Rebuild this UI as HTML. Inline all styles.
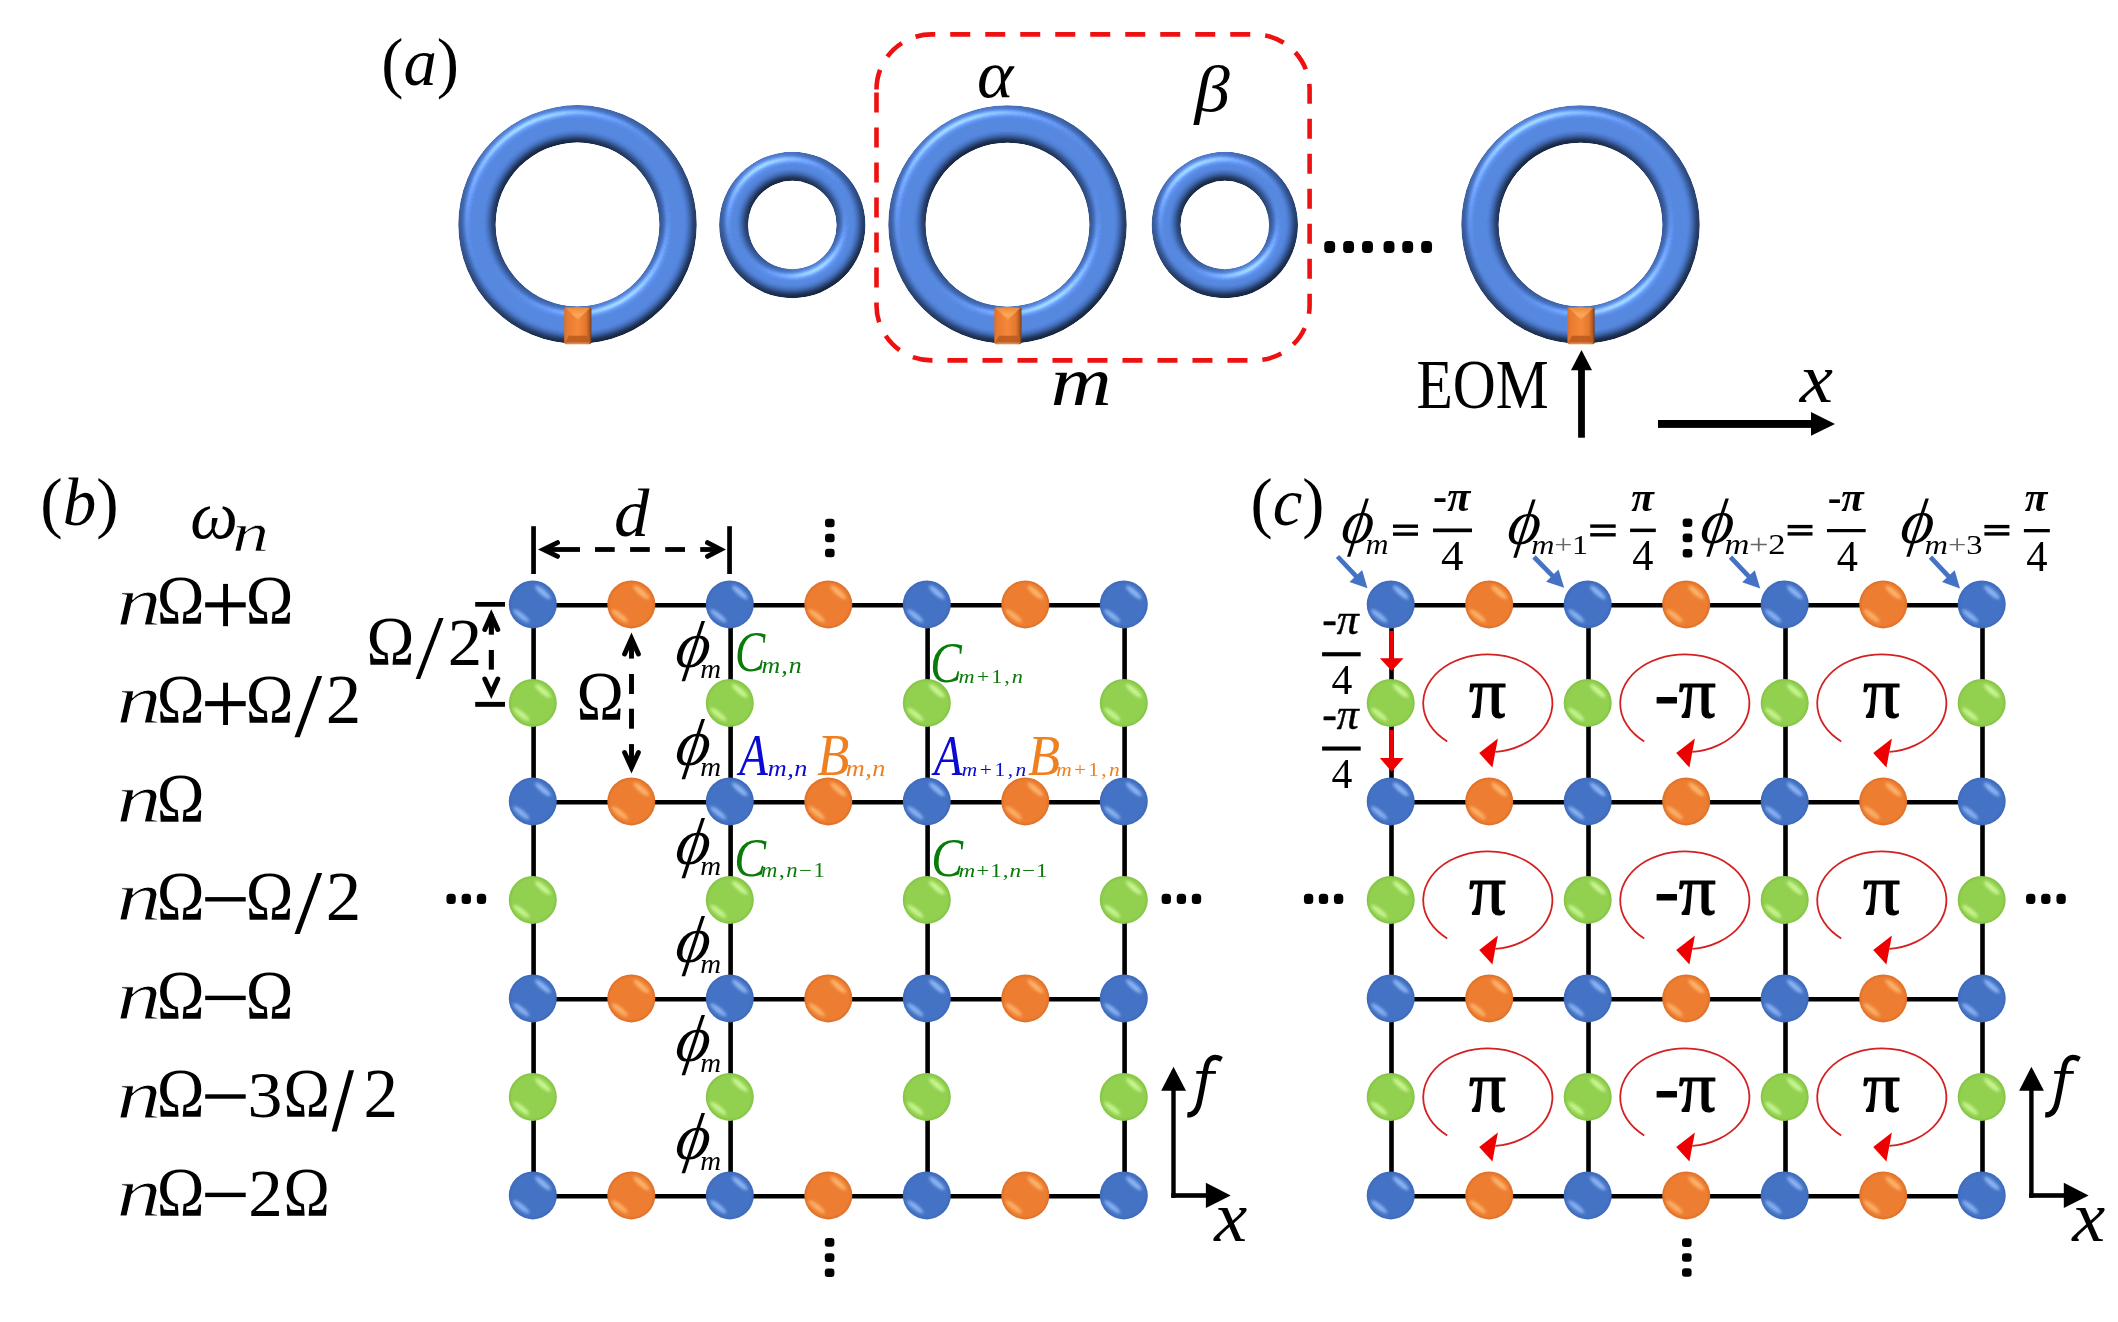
<!DOCTYPE html>
<html><head><meta charset="utf-8"><title>figure</title>
<style>html,body{margin:0;padding:0;background:#fff;overflow:hidden}svg{display:block;font-family:"Liberation Serif",serif;will-change:transform}</style>
</head><body>
<svg width="2118" height="1322" viewBox="0 0 2118 1322">
<rect width="2118" height="1322" fill="#fff"/>

<defs>
 <filter id="bev" x="-8%" y="-8%" width="116%" height="116%" color-interpolation-filters="sRGB">
  <feGaussianBlur in="SourceAlpha" stdDeviation="5" result="b"/>
  <feDiffuseLighting in="b" surfaceScale="8" diffuseConstant="1" lighting-color="#fff" result="d">
   <feDistantLight azimuth="245" elevation="70"/>
  </feDiffuseLighting>
  <feComposite in="SourceGraphic" in2="d" operator="arithmetic" k1="1.0642" k2="0" k3="0" k4="0" result="lit"/>
  <feSpecularLighting in="b" surfaceScale="8" specularConstant="0.8" specularExponent="16" lighting-color="#cfe0ff" result="s">
   <feDistantLight azimuth="240" elevation="35"/>
  </feSpecularLighting>
  <feComposite in="s" in2="SourceAlpha" operator="in" result="s2"/>
  <feComposite in="lit" in2="s2" operator="arithmetic" k1="0" k2="1" k3="0.5" k4="0" result="o"/>
  <feComposite in="o" in2="SourceAlpha" operator="in"/>
 </filter>
 <filter id="bevs" x="-8%" y="-8%" width="116%" height="116%" color-interpolation-filters="sRGB">
  <feGaussianBlur in="SourceAlpha" stdDeviation="1.5" result="b"/>
  <feDiffuseLighting in="b" surfaceScale="3" diffuseConstant="1" lighting-color="#fff" result="d">
   <feDistantLight azimuth="270" elevation="60"/>
  </feDiffuseLighting>
  <feComposite in="SourceGraphic" in2="d" operator="arithmetic" k1="1.12" k2="0" k3="0" k4="0" result="lit"/>
  <feComposite in="lit" in2="SourceAlpha" operator="in"/>
 </filter>

 <filter id="sblur" x="-50%" y="-50%" width="200%" height="200%"><feGaussianBlur stdDeviation="1.6"/></filter>
 <radialGradient id="gB" cx="0.5" cy="0.5" r="0.5">
  <stop offset="0" stop-color="#4472c4"/><stop offset="0.86" stop-color="#4472c4"/><stop offset="1" stop-color="#3e69b8"/>
 </radialGradient>

 <radialGradient id="gO" cx="0.5" cy="0.5" r="0.5">
  <stop offset="0" stop-color="#ed7d31"/><stop offset="0.86" stop-color="#ed7d31"/><stop offset="1" stop-color="#dc6f28"/>
 </radialGradient>

 <radialGradient id="gG" cx="0.5" cy="0.5" r="0.5">
  <stop offset="0" stop-color="#92d050"/><stop offset="0.86" stop-color="#92d050"/><stop offset="1" stop-color="#84c244"/>
 </radialGradient>

 <linearGradient id="eomg" x1="0" y1="0" x2="1" y2="0">
  <stop offset="0" stop-color="#d8702c"/><stop offset="0.12" stop-color="#e97a30"/><stop offset="0.5" stop-color="#f5883a"/>
  <stop offset="0.8" stop-color="#e2772f"/><stop offset="0.92" stop-color="#b35a22"/><stop offset="1" stop-color="#6e3a1c"/>
 </linearGradient>
 <linearGradient id="eomt" x1="0" y1="0" x2="0" y2="1">
  <stop offset="0" stop-color="#f08a3a"/><stop offset="0.6" stop-color="#fba858"/><stop offset="1" stop-color="#f79646"/>
 </linearGradient>
</defs>

<path d="M 458.2 224.4 a 119.3 119.3 0 1 0 238.6 0 a 119.3 119.3 0 1 0 -238.6 0 Z M 495.7 224.4 a 81.8 81.8 0 1 1 163.6 0 a 81.8 81.8 0 1 1 -163.6 0 Z" fill="#4b7bd1" fill-rule="evenodd" filter="url(#bev)"/>
<path d="M 719.1 225 a 73.2 73.2 0 1 0 146.4 0 a 73.2 73.2 0 1 0 -146.4 0 Z M 748.1 225 a 44.2 44.2 0 1 1 88.4 0 a 44.2 44.2 0 1 1 -88.4 0 Z" fill="#4b7bd1" fill-rule="evenodd" filter="url(#bev)"/>
<path d="M 888.2 224.6 a 119.3 119.3 0 1 0 238.6 0 a 119.3 119.3 0 1 0 -238.6 0 Z M 925.7 224.6 a 81.8 81.8 0 1 1 163.6 0 a 81.8 81.8 0 1 1 -163.6 0 Z" fill="#4b7bd1" fill-rule="evenodd" filter="url(#bev)"/>
<path d="M 1151.6 225 a 73.2 73.2 0 1 0 146.4 0 a 73.2 73.2 0 1 0 -146.4 0 Z M 1180.6 225 a 44.2 44.2 0 1 1 88.4 0 a 44.2 44.2 0 1 1 -88.4 0 Z" fill="#4b7bd1" fill-rule="evenodd" filter="url(#bev)"/>
<path d="M 1461.2 224.5 a 119.3 119.3 0 1 0 238.6 0 a 119.3 119.3 0 1 0 -238.6 0 Z M 1498.7 224.5 a 81.8 81.8 0 1 1 163.6 0 a 81.8 81.8 0 1 1 -163.6 0 Z" fill="#4b7bd1" fill-rule="evenodd" filter="url(#bev)"/>
<rect x="564.2" y="307.2" width="27.2" height="37" rx="2" fill="url(#eomg)"/><polygon points="565.7,308 589.9,308 577.8,319.7" fill="url(#eomt)"/><polygon points="565.2,342.7 568.7,335.7 586.9,335.7 590.4,342.7" fill="#b9591d" opacity="0.85"/><rect x="566.2" y="342.4" width="23.2" height="1.6" fill="#d98a5a" opacity="0.8"/>
<rect x="994.3" y="307.2" width="27.2" height="37" rx="2" fill="url(#eomg)"/><polygon points="995.8,308 1020,308 1007.9,319.7" fill="url(#eomt)"/><polygon points="995.3,342.7 998.8,335.7 1017,335.7 1020.5,342.7" fill="#b9591d" opacity="0.85"/><rect x="996.3" y="342.4" width="23.2" height="1.6" fill="#d98a5a" opacity="0.8"/>
<rect x="1567.4" y="307.2" width="27.2" height="37" rx="2" fill="url(#eomg)"/><polygon points="1568.9,308 1593.1,308 1581,319.7" fill="url(#eomt)"/><polygon points="1568.4,342.7 1571.9,335.7 1590.1,335.7 1593.6,342.7" fill="#b9591d" opacity="0.85"/><rect x="1569.4" y="342.4" width="23.2" height="1.6" fill="#d98a5a" opacity="0.8"/>
<path d="M 876.5 89.4 A 55 55 0 0 1 931.5 34.4 H 1254.6 A 55 55 0 0 1 1309.6 89.4 V 305.4 A 55 55 0 0 1 1254.6 360.4 H 931.5 A 55 55 0 0 1 876.5 305.4 Z" fill="none" stroke="#ee1111" stroke-width="4.6" stroke-dasharray="20 15"/>
<rect x="1324.25" y="241.1" width="10.9" height="11.8" rx="4" fill="#000"/>
<rect x="1343.15" y="241.1" width="10.9" height="11.8" rx="4" fill="#000"/>
<rect x="1362.05" y="241.1" width="10.9" height="11.8" rx="4" fill="#000"/>
<rect x="1383.55" y="241.1" width="10.9" height="11.8" rx="4" fill="#000"/>
<rect x="1402.25" y="241.1" width="10.9" height="11.8" rx="4" fill="#000"/>
<rect x="1421.15" y="241.1" width="10.9" height="11.8" rx="4" fill="#000"/>
<rect x="1578.1" y="368" width="6.8" height="69.7" fill="#000"/>
<polygon points="1581.5,349.9 1592,370.3 1571,370.3" fill="#000"/>
<rect x="1658" y="420" width="155" height="7.9" fill="#000"/>
<polygon points="1835,424 1811,412 1811,435.8" fill="#000"/>
<line x1="532.8" y1="605.2" x2="1123.8" y2="605.2" stroke="#000" stroke-width="4.6"/>
<line x1="532.8" y1="802.2" x2="1123.8" y2="802.2" stroke="#000" stroke-width="4.6"/>
<line x1="532.8" y1="999.2" x2="1123.8" y2="999.2" stroke="#000" stroke-width="4.6"/>
<line x1="532.8" y1="1196.2" x2="1123.8" y2="1196.2" stroke="#000" stroke-width="4.6"/>
<line x1="533.6" y1="604.4" x2="533.6" y2="1195.4" stroke="#000" stroke-width="4.6"/>
<line x1="730.6" y1="604.4" x2="730.6" y2="1195.4" stroke="#000" stroke-width="4.6"/>
<line x1="927.6" y1="604.4" x2="927.6" y2="1195.4" stroke="#000" stroke-width="4.6"/>
<line x1="1124.6" y1="604.4" x2="1124.6" y2="1195.4" stroke="#000" stroke-width="4.6"/>
<line x1="1390.7" y1="605.2" x2="1981.7" y2="605.2" stroke="#000" stroke-width="4.6"/>
<line x1="1390.7" y1="802.2" x2="1981.7" y2="802.2" stroke="#000" stroke-width="4.6"/>
<line x1="1390.7" y1="999.2" x2="1981.7" y2="999.2" stroke="#000" stroke-width="4.6"/>
<line x1="1390.7" y1="1196.2" x2="1981.7" y2="1196.2" stroke="#000" stroke-width="4.6"/>
<line x1="1391.5" y1="604.4" x2="1391.5" y2="1195.4" stroke="#000" stroke-width="4.6"/>
<line x1="1588.5" y1="604.4" x2="1588.5" y2="1195.4" stroke="#000" stroke-width="4.6"/>
<line x1="1785.5" y1="604.4" x2="1785.5" y2="1195.4" stroke="#000" stroke-width="4.6"/>
<line x1="1982.5" y1="604.4" x2="1982.5" y2="1195.4" stroke="#000" stroke-width="4.6"/>
<rect x="1389.4" y="631" width="4.2" height="28.3" fill="#ee0000"/>
<polygon points="1379.9,658.3 1403.5,658.3 1391.7,671.1" fill="#ee0000"/>
<rect x="1389.4" y="730" width="4.2" height="29.1" fill="#ee0000"/>
<polygon points="1379.9,758.1 1403.5,758.1 1391.7,771.8" fill="#ee0000"/>
<g transform="translate(532.8,604.4)"><circle r="24" fill="url(#gB)"/><g filter="url(#sblur)" fill="#9cc4ff"><ellipse rx="10" ry="2.8" opacity="0.8" transform="translate(10,-12) rotate(40)"/><ellipse rx="10" ry="2.8" opacity="0.75" transform="translate(-11.5,11.5) rotate(38)"/></g></g>
<g transform="translate(631.3,604.4)"><circle r="24" fill="url(#gO)"/><g filter="url(#sblur)" fill="#ffc078"><ellipse rx="10" ry="2.8" opacity="0.8" transform="translate(10,-12) rotate(40)"/><ellipse rx="10" ry="2.8" opacity="0.75" transform="translate(-11.5,11.5) rotate(38)"/></g></g>
<g transform="translate(729.8,604.4)"><circle r="24" fill="url(#gB)"/><g filter="url(#sblur)" fill="#9cc4ff"><ellipse rx="10" ry="2.8" opacity="0.8" transform="translate(10,-12) rotate(40)"/><ellipse rx="10" ry="2.8" opacity="0.75" transform="translate(-11.5,11.5) rotate(38)"/></g></g>
<g transform="translate(828.3,604.4)"><circle r="24" fill="url(#gO)"/><g filter="url(#sblur)" fill="#ffc078"><ellipse rx="10" ry="2.8" opacity="0.8" transform="translate(10,-12) rotate(40)"/><ellipse rx="10" ry="2.8" opacity="0.75" transform="translate(-11.5,11.5) rotate(38)"/></g></g>
<g transform="translate(926.8,604.4)"><circle r="24" fill="url(#gB)"/><g filter="url(#sblur)" fill="#9cc4ff"><ellipse rx="10" ry="2.8" opacity="0.8" transform="translate(10,-12) rotate(40)"/><ellipse rx="10" ry="2.8" opacity="0.75" transform="translate(-11.5,11.5) rotate(38)"/></g></g>
<g transform="translate(1025.3,604.4)"><circle r="24" fill="url(#gO)"/><g filter="url(#sblur)" fill="#ffc078"><ellipse rx="10" ry="2.8" opacity="0.8" transform="translate(10,-12) rotate(40)"/><ellipse rx="10" ry="2.8" opacity="0.75" transform="translate(-11.5,11.5) rotate(38)"/></g></g>
<g transform="translate(1123.8,604.4)"><circle r="24" fill="url(#gB)"/><g filter="url(#sblur)" fill="#9cc4ff"><ellipse rx="10" ry="2.8" opacity="0.8" transform="translate(10,-12) rotate(40)"/><ellipse rx="10" ry="2.8" opacity="0.75" transform="translate(-11.5,11.5) rotate(38)"/></g></g>
<g transform="translate(532.8,702.9)"><circle r="24" fill="url(#gG)"/><g filter="url(#sblur)" fill="#d6ffa0"><ellipse rx="10" ry="2.8" opacity="0.8" transform="translate(10,-12) rotate(40)"/><ellipse rx="10" ry="2.8" opacity="0.75" transform="translate(-11.5,11.5) rotate(38)"/></g></g>
<g transform="translate(729.8,702.9)"><circle r="24" fill="url(#gG)"/><g filter="url(#sblur)" fill="#d6ffa0"><ellipse rx="10" ry="2.8" opacity="0.8" transform="translate(10,-12) rotate(40)"/><ellipse rx="10" ry="2.8" opacity="0.75" transform="translate(-11.5,11.5) rotate(38)"/></g></g>
<g transform="translate(926.8,702.9)"><circle r="24" fill="url(#gG)"/><g filter="url(#sblur)" fill="#d6ffa0"><ellipse rx="10" ry="2.8" opacity="0.8" transform="translate(10,-12) rotate(40)"/><ellipse rx="10" ry="2.8" opacity="0.75" transform="translate(-11.5,11.5) rotate(38)"/></g></g>
<g transform="translate(1123.8,702.9)"><circle r="24" fill="url(#gG)"/><g filter="url(#sblur)" fill="#d6ffa0"><ellipse rx="10" ry="2.8" opacity="0.8" transform="translate(10,-12) rotate(40)"/><ellipse rx="10" ry="2.8" opacity="0.75" transform="translate(-11.5,11.5) rotate(38)"/></g></g>
<g transform="translate(532.8,801.4)"><circle r="24" fill="url(#gB)"/><g filter="url(#sblur)" fill="#9cc4ff"><ellipse rx="10" ry="2.8" opacity="0.8" transform="translate(10,-12) rotate(40)"/><ellipse rx="10" ry="2.8" opacity="0.75" transform="translate(-11.5,11.5) rotate(38)"/></g></g>
<g transform="translate(631.3,801.4)"><circle r="24" fill="url(#gO)"/><g filter="url(#sblur)" fill="#ffc078"><ellipse rx="10" ry="2.8" opacity="0.8" transform="translate(10,-12) rotate(40)"/><ellipse rx="10" ry="2.8" opacity="0.75" transform="translate(-11.5,11.5) rotate(38)"/></g></g>
<g transform="translate(729.8,801.4)"><circle r="24" fill="url(#gB)"/><g filter="url(#sblur)" fill="#9cc4ff"><ellipse rx="10" ry="2.8" opacity="0.8" transform="translate(10,-12) rotate(40)"/><ellipse rx="10" ry="2.8" opacity="0.75" transform="translate(-11.5,11.5) rotate(38)"/></g></g>
<g transform="translate(828.3,801.4)"><circle r="24" fill="url(#gO)"/><g filter="url(#sblur)" fill="#ffc078"><ellipse rx="10" ry="2.8" opacity="0.8" transform="translate(10,-12) rotate(40)"/><ellipse rx="10" ry="2.8" opacity="0.75" transform="translate(-11.5,11.5) rotate(38)"/></g></g>
<g transform="translate(926.8,801.4)"><circle r="24" fill="url(#gB)"/><g filter="url(#sblur)" fill="#9cc4ff"><ellipse rx="10" ry="2.8" opacity="0.8" transform="translate(10,-12) rotate(40)"/><ellipse rx="10" ry="2.8" opacity="0.75" transform="translate(-11.5,11.5) rotate(38)"/></g></g>
<g transform="translate(1025.3,801.4)"><circle r="24" fill="url(#gO)"/><g filter="url(#sblur)" fill="#ffc078"><ellipse rx="10" ry="2.8" opacity="0.8" transform="translate(10,-12) rotate(40)"/><ellipse rx="10" ry="2.8" opacity="0.75" transform="translate(-11.5,11.5) rotate(38)"/></g></g>
<g transform="translate(1123.8,801.4)"><circle r="24" fill="url(#gB)"/><g filter="url(#sblur)" fill="#9cc4ff"><ellipse rx="10" ry="2.8" opacity="0.8" transform="translate(10,-12) rotate(40)"/><ellipse rx="10" ry="2.8" opacity="0.75" transform="translate(-11.5,11.5) rotate(38)"/></g></g>
<g transform="translate(532.8,899.9)"><circle r="24" fill="url(#gG)"/><g filter="url(#sblur)" fill="#d6ffa0"><ellipse rx="10" ry="2.8" opacity="0.8" transform="translate(10,-12) rotate(40)"/><ellipse rx="10" ry="2.8" opacity="0.75" transform="translate(-11.5,11.5) rotate(38)"/></g></g>
<g transform="translate(729.8,899.9)"><circle r="24" fill="url(#gG)"/><g filter="url(#sblur)" fill="#d6ffa0"><ellipse rx="10" ry="2.8" opacity="0.8" transform="translate(10,-12) rotate(40)"/><ellipse rx="10" ry="2.8" opacity="0.75" transform="translate(-11.5,11.5) rotate(38)"/></g></g>
<g transform="translate(926.8,899.9)"><circle r="24" fill="url(#gG)"/><g filter="url(#sblur)" fill="#d6ffa0"><ellipse rx="10" ry="2.8" opacity="0.8" transform="translate(10,-12) rotate(40)"/><ellipse rx="10" ry="2.8" opacity="0.75" transform="translate(-11.5,11.5) rotate(38)"/></g></g>
<g transform="translate(1123.8,899.9)"><circle r="24" fill="url(#gG)"/><g filter="url(#sblur)" fill="#d6ffa0"><ellipse rx="10" ry="2.8" opacity="0.8" transform="translate(10,-12) rotate(40)"/><ellipse rx="10" ry="2.8" opacity="0.75" transform="translate(-11.5,11.5) rotate(38)"/></g></g>
<g transform="translate(532.8,998.4)"><circle r="24" fill="url(#gB)"/><g filter="url(#sblur)" fill="#9cc4ff"><ellipse rx="10" ry="2.8" opacity="0.8" transform="translate(10,-12) rotate(40)"/><ellipse rx="10" ry="2.8" opacity="0.75" transform="translate(-11.5,11.5) rotate(38)"/></g></g>
<g transform="translate(631.3,998.4)"><circle r="24" fill="url(#gO)"/><g filter="url(#sblur)" fill="#ffc078"><ellipse rx="10" ry="2.8" opacity="0.8" transform="translate(10,-12) rotate(40)"/><ellipse rx="10" ry="2.8" opacity="0.75" transform="translate(-11.5,11.5) rotate(38)"/></g></g>
<g transform="translate(729.8,998.4)"><circle r="24" fill="url(#gB)"/><g filter="url(#sblur)" fill="#9cc4ff"><ellipse rx="10" ry="2.8" opacity="0.8" transform="translate(10,-12) rotate(40)"/><ellipse rx="10" ry="2.8" opacity="0.75" transform="translate(-11.5,11.5) rotate(38)"/></g></g>
<g transform="translate(828.3,998.4)"><circle r="24" fill="url(#gO)"/><g filter="url(#sblur)" fill="#ffc078"><ellipse rx="10" ry="2.8" opacity="0.8" transform="translate(10,-12) rotate(40)"/><ellipse rx="10" ry="2.8" opacity="0.75" transform="translate(-11.5,11.5) rotate(38)"/></g></g>
<g transform="translate(926.8,998.4)"><circle r="24" fill="url(#gB)"/><g filter="url(#sblur)" fill="#9cc4ff"><ellipse rx="10" ry="2.8" opacity="0.8" transform="translate(10,-12) rotate(40)"/><ellipse rx="10" ry="2.8" opacity="0.75" transform="translate(-11.5,11.5) rotate(38)"/></g></g>
<g transform="translate(1025.3,998.4)"><circle r="24" fill="url(#gO)"/><g filter="url(#sblur)" fill="#ffc078"><ellipse rx="10" ry="2.8" opacity="0.8" transform="translate(10,-12) rotate(40)"/><ellipse rx="10" ry="2.8" opacity="0.75" transform="translate(-11.5,11.5) rotate(38)"/></g></g>
<g transform="translate(1123.8,998.4)"><circle r="24" fill="url(#gB)"/><g filter="url(#sblur)" fill="#9cc4ff"><ellipse rx="10" ry="2.8" opacity="0.8" transform="translate(10,-12) rotate(40)"/><ellipse rx="10" ry="2.8" opacity="0.75" transform="translate(-11.5,11.5) rotate(38)"/></g></g>
<g transform="translate(532.8,1096.9)"><circle r="24" fill="url(#gG)"/><g filter="url(#sblur)" fill="#d6ffa0"><ellipse rx="10" ry="2.8" opacity="0.8" transform="translate(10,-12) rotate(40)"/><ellipse rx="10" ry="2.8" opacity="0.75" transform="translate(-11.5,11.5) rotate(38)"/></g></g>
<g transform="translate(729.8,1096.9)"><circle r="24" fill="url(#gG)"/><g filter="url(#sblur)" fill="#d6ffa0"><ellipse rx="10" ry="2.8" opacity="0.8" transform="translate(10,-12) rotate(40)"/><ellipse rx="10" ry="2.8" opacity="0.75" transform="translate(-11.5,11.5) rotate(38)"/></g></g>
<g transform="translate(926.8,1096.9)"><circle r="24" fill="url(#gG)"/><g filter="url(#sblur)" fill="#d6ffa0"><ellipse rx="10" ry="2.8" opacity="0.8" transform="translate(10,-12) rotate(40)"/><ellipse rx="10" ry="2.8" opacity="0.75" transform="translate(-11.5,11.5) rotate(38)"/></g></g>
<g transform="translate(1123.8,1096.9)"><circle r="24" fill="url(#gG)"/><g filter="url(#sblur)" fill="#d6ffa0"><ellipse rx="10" ry="2.8" opacity="0.8" transform="translate(10,-12) rotate(40)"/><ellipse rx="10" ry="2.8" opacity="0.75" transform="translate(-11.5,11.5) rotate(38)"/></g></g>
<g transform="translate(532.8,1195.4)"><circle r="24" fill="url(#gB)"/><g filter="url(#sblur)" fill="#9cc4ff"><ellipse rx="10" ry="2.8" opacity="0.8" transform="translate(10,-12) rotate(40)"/><ellipse rx="10" ry="2.8" opacity="0.75" transform="translate(-11.5,11.5) rotate(38)"/></g></g>
<g transform="translate(631.3,1195.4)"><circle r="24" fill="url(#gO)"/><g filter="url(#sblur)" fill="#ffc078"><ellipse rx="10" ry="2.8" opacity="0.8" transform="translate(10,-12) rotate(40)"/><ellipse rx="10" ry="2.8" opacity="0.75" transform="translate(-11.5,11.5) rotate(38)"/></g></g>
<g transform="translate(729.8,1195.4)"><circle r="24" fill="url(#gB)"/><g filter="url(#sblur)" fill="#9cc4ff"><ellipse rx="10" ry="2.8" opacity="0.8" transform="translate(10,-12) rotate(40)"/><ellipse rx="10" ry="2.8" opacity="0.75" transform="translate(-11.5,11.5) rotate(38)"/></g></g>
<g transform="translate(828.3,1195.4)"><circle r="24" fill="url(#gO)"/><g filter="url(#sblur)" fill="#ffc078"><ellipse rx="10" ry="2.8" opacity="0.8" transform="translate(10,-12) rotate(40)"/><ellipse rx="10" ry="2.8" opacity="0.75" transform="translate(-11.5,11.5) rotate(38)"/></g></g>
<g transform="translate(926.8,1195.4)"><circle r="24" fill="url(#gB)"/><g filter="url(#sblur)" fill="#9cc4ff"><ellipse rx="10" ry="2.8" opacity="0.8" transform="translate(10,-12) rotate(40)"/><ellipse rx="10" ry="2.8" opacity="0.75" transform="translate(-11.5,11.5) rotate(38)"/></g></g>
<g transform="translate(1025.3,1195.4)"><circle r="24" fill="url(#gO)"/><g filter="url(#sblur)" fill="#ffc078"><ellipse rx="10" ry="2.8" opacity="0.8" transform="translate(10,-12) rotate(40)"/><ellipse rx="10" ry="2.8" opacity="0.75" transform="translate(-11.5,11.5) rotate(38)"/></g></g>
<g transform="translate(1123.8,1195.4)"><circle r="24" fill="url(#gB)"/><g filter="url(#sblur)" fill="#9cc4ff"><ellipse rx="10" ry="2.8" opacity="0.8" transform="translate(10,-12) rotate(40)"/><ellipse rx="10" ry="2.8" opacity="0.75" transform="translate(-11.5,11.5) rotate(38)"/></g></g>
<g transform="translate(1390.7,604.4)"><circle r="24" fill="url(#gB)"/><g filter="url(#sblur)" fill="#9cc4ff"><ellipse rx="10" ry="2.8" opacity="0.8" transform="translate(10,-12) rotate(40)"/><ellipse rx="10" ry="2.8" opacity="0.75" transform="translate(-11.5,11.5) rotate(38)"/></g></g>
<g transform="translate(1489.2,604.4)"><circle r="24" fill="url(#gO)"/><g filter="url(#sblur)" fill="#ffc078"><ellipse rx="10" ry="2.8" opacity="0.8" transform="translate(10,-12) rotate(40)"/><ellipse rx="10" ry="2.8" opacity="0.75" transform="translate(-11.5,11.5) rotate(38)"/></g></g>
<g transform="translate(1587.7,604.4)"><circle r="24" fill="url(#gB)"/><g filter="url(#sblur)" fill="#9cc4ff"><ellipse rx="10" ry="2.8" opacity="0.8" transform="translate(10,-12) rotate(40)"/><ellipse rx="10" ry="2.8" opacity="0.75" transform="translate(-11.5,11.5) rotate(38)"/></g></g>
<g transform="translate(1686.2,604.4)"><circle r="24" fill="url(#gO)"/><g filter="url(#sblur)" fill="#ffc078"><ellipse rx="10" ry="2.8" opacity="0.8" transform="translate(10,-12) rotate(40)"/><ellipse rx="10" ry="2.8" opacity="0.75" transform="translate(-11.5,11.5) rotate(38)"/></g></g>
<g transform="translate(1784.7,604.4)"><circle r="24" fill="url(#gB)"/><g filter="url(#sblur)" fill="#9cc4ff"><ellipse rx="10" ry="2.8" opacity="0.8" transform="translate(10,-12) rotate(40)"/><ellipse rx="10" ry="2.8" opacity="0.75" transform="translate(-11.5,11.5) rotate(38)"/></g></g>
<g transform="translate(1883.2,604.4)"><circle r="24" fill="url(#gO)"/><g filter="url(#sblur)" fill="#ffc078"><ellipse rx="10" ry="2.8" opacity="0.8" transform="translate(10,-12) rotate(40)"/><ellipse rx="10" ry="2.8" opacity="0.75" transform="translate(-11.5,11.5) rotate(38)"/></g></g>
<g transform="translate(1981.7,604.4)"><circle r="24" fill="url(#gB)"/><g filter="url(#sblur)" fill="#9cc4ff"><ellipse rx="10" ry="2.8" opacity="0.8" transform="translate(10,-12) rotate(40)"/><ellipse rx="10" ry="2.8" opacity="0.75" transform="translate(-11.5,11.5) rotate(38)"/></g></g>
<g transform="translate(1390.7,702.9)"><circle r="24" fill="url(#gG)"/><g filter="url(#sblur)" fill="#d6ffa0"><ellipse rx="10" ry="2.8" opacity="0.8" transform="translate(10,-12) rotate(40)"/><ellipse rx="10" ry="2.8" opacity="0.75" transform="translate(-11.5,11.5) rotate(38)"/></g></g>
<g transform="translate(1587.7,702.9)"><circle r="24" fill="url(#gG)"/><g filter="url(#sblur)" fill="#d6ffa0"><ellipse rx="10" ry="2.8" opacity="0.8" transform="translate(10,-12) rotate(40)"/><ellipse rx="10" ry="2.8" opacity="0.75" transform="translate(-11.5,11.5) rotate(38)"/></g></g>
<g transform="translate(1784.7,702.9)"><circle r="24" fill="url(#gG)"/><g filter="url(#sblur)" fill="#d6ffa0"><ellipse rx="10" ry="2.8" opacity="0.8" transform="translate(10,-12) rotate(40)"/><ellipse rx="10" ry="2.8" opacity="0.75" transform="translate(-11.5,11.5) rotate(38)"/></g></g>
<g transform="translate(1981.7,702.9)"><circle r="24" fill="url(#gG)"/><g filter="url(#sblur)" fill="#d6ffa0"><ellipse rx="10" ry="2.8" opacity="0.8" transform="translate(10,-12) rotate(40)"/><ellipse rx="10" ry="2.8" opacity="0.75" transform="translate(-11.5,11.5) rotate(38)"/></g></g>
<g transform="translate(1390.7,801.4)"><circle r="24" fill="url(#gB)"/><g filter="url(#sblur)" fill="#9cc4ff"><ellipse rx="10" ry="2.8" opacity="0.8" transform="translate(10,-12) rotate(40)"/><ellipse rx="10" ry="2.8" opacity="0.75" transform="translate(-11.5,11.5) rotate(38)"/></g></g>
<g transform="translate(1489.2,801.4)"><circle r="24" fill="url(#gO)"/><g filter="url(#sblur)" fill="#ffc078"><ellipse rx="10" ry="2.8" opacity="0.8" transform="translate(10,-12) rotate(40)"/><ellipse rx="10" ry="2.8" opacity="0.75" transform="translate(-11.5,11.5) rotate(38)"/></g></g>
<g transform="translate(1587.7,801.4)"><circle r="24" fill="url(#gB)"/><g filter="url(#sblur)" fill="#9cc4ff"><ellipse rx="10" ry="2.8" opacity="0.8" transform="translate(10,-12) rotate(40)"/><ellipse rx="10" ry="2.8" opacity="0.75" transform="translate(-11.5,11.5) rotate(38)"/></g></g>
<g transform="translate(1686.2,801.4)"><circle r="24" fill="url(#gO)"/><g filter="url(#sblur)" fill="#ffc078"><ellipse rx="10" ry="2.8" opacity="0.8" transform="translate(10,-12) rotate(40)"/><ellipse rx="10" ry="2.8" opacity="0.75" transform="translate(-11.5,11.5) rotate(38)"/></g></g>
<g transform="translate(1784.7,801.4)"><circle r="24" fill="url(#gB)"/><g filter="url(#sblur)" fill="#9cc4ff"><ellipse rx="10" ry="2.8" opacity="0.8" transform="translate(10,-12) rotate(40)"/><ellipse rx="10" ry="2.8" opacity="0.75" transform="translate(-11.5,11.5) rotate(38)"/></g></g>
<g transform="translate(1883.2,801.4)"><circle r="24" fill="url(#gO)"/><g filter="url(#sblur)" fill="#ffc078"><ellipse rx="10" ry="2.8" opacity="0.8" transform="translate(10,-12) rotate(40)"/><ellipse rx="10" ry="2.8" opacity="0.75" transform="translate(-11.5,11.5) rotate(38)"/></g></g>
<g transform="translate(1981.7,801.4)"><circle r="24" fill="url(#gB)"/><g filter="url(#sblur)" fill="#9cc4ff"><ellipse rx="10" ry="2.8" opacity="0.8" transform="translate(10,-12) rotate(40)"/><ellipse rx="10" ry="2.8" opacity="0.75" transform="translate(-11.5,11.5) rotate(38)"/></g></g>
<g transform="translate(1390.7,899.9)"><circle r="24" fill="url(#gG)"/><g filter="url(#sblur)" fill="#d6ffa0"><ellipse rx="10" ry="2.8" opacity="0.8" transform="translate(10,-12) rotate(40)"/><ellipse rx="10" ry="2.8" opacity="0.75" transform="translate(-11.5,11.5) rotate(38)"/></g></g>
<g transform="translate(1587.7,899.9)"><circle r="24" fill="url(#gG)"/><g filter="url(#sblur)" fill="#d6ffa0"><ellipse rx="10" ry="2.8" opacity="0.8" transform="translate(10,-12) rotate(40)"/><ellipse rx="10" ry="2.8" opacity="0.75" transform="translate(-11.5,11.5) rotate(38)"/></g></g>
<g transform="translate(1784.7,899.9)"><circle r="24" fill="url(#gG)"/><g filter="url(#sblur)" fill="#d6ffa0"><ellipse rx="10" ry="2.8" opacity="0.8" transform="translate(10,-12) rotate(40)"/><ellipse rx="10" ry="2.8" opacity="0.75" transform="translate(-11.5,11.5) rotate(38)"/></g></g>
<g transform="translate(1981.7,899.9)"><circle r="24" fill="url(#gG)"/><g filter="url(#sblur)" fill="#d6ffa0"><ellipse rx="10" ry="2.8" opacity="0.8" transform="translate(10,-12) rotate(40)"/><ellipse rx="10" ry="2.8" opacity="0.75" transform="translate(-11.5,11.5) rotate(38)"/></g></g>
<g transform="translate(1390.7,998.4)"><circle r="24" fill="url(#gB)"/><g filter="url(#sblur)" fill="#9cc4ff"><ellipse rx="10" ry="2.8" opacity="0.8" transform="translate(10,-12) rotate(40)"/><ellipse rx="10" ry="2.8" opacity="0.75" transform="translate(-11.5,11.5) rotate(38)"/></g></g>
<g transform="translate(1489.2,998.4)"><circle r="24" fill="url(#gO)"/><g filter="url(#sblur)" fill="#ffc078"><ellipse rx="10" ry="2.8" opacity="0.8" transform="translate(10,-12) rotate(40)"/><ellipse rx="10" ry="2.8" opacity="0.75" transform="translate(-11.5,11.5) rotate(38)"/></g></g>
<g transform="translate(1587.7,998.4)"><circle r="24" fill="url(#gB)"/><g filter="url(#sblur)" fill="#9cc4ff"><ellipse rx="10" ry="2.8" opacity="0.8" transform="translate(10,-12) rotate(40)"/><ellipse rx="10" ry="2.8" opacity="0.75" transform="translate(-11.5,11.5) rotate(38)"/></g></g>
<g transform="translate(1686.2,998.4)"><circle r="24" fill="url(#gO)"/><g filter="url(#sblur)" fill="#ffc078"><ellipse rx="10" ry="2.8" opacity="0.8" transform="translate(10,-12) rotate(40)"/><ellipse rx="10" ry="2.8" opacity="0.75" transform="translate(-11.5,11.5) rotate(38)"/></g></g>
<g transform="translate(1784.7,998.4)"><circle r="24" fill="url(#gB)"/><g filter="url(#sblur)" fill="#9cc4ff"><ellipse rx="10" ry="2.8" opacity="0.8" transform="translate(10,-12) rotate(40)"/><ellipse rx="10" ry="2.8" opacity="0.75" transform="translate(-11.5,11.5) rotate(38)"/></g></g>
<g transform="translate(1883.2,998.4)"><circle r="24" fill="url(#gO)"/><g filter="url(#sblur)" fill="#ffc078"><ellipse rx="10" ry="2.8" opacity="0.8" transform="translate(10,-12) rotate(40)"/><ellipse rx="10" ry="2.8" opacity="0.75" transform="translate(-11.5,11.5) rotate(38)"/></g></g>
<g transform="translate(1981.7,998.4)"><circle r="24" fill="url(#gB)"/><g filter="url(#sblur)" fill="#9cc4ff"><ellipse rx="10" ry="2.8" opacity="0.8" transform="translate(10,-12) rotate(40)"/><ellipse rx="10" ry="2.8" opacity="0.75" transform="translate(-11.5,11.5) rotate(38)"/></g></g>
<g transform="translate(1390.7,1096.9)"><circle r="24" fill="url(#gG)"/><g filter="url(#sblur)" fill="#d6ffa0"><ellipse rx="10" ry="2.8" opacity="0.8" transform="translate(10,-12) rotate(40)"/><ellipse rx="10" ry="2.8" opacity="0.75" transform="translate(-11.5,11.5) rotate(38)"/></g></g>
<g transform="translate(1587.7,1096.9)"><circle r="24" fill="url(#gG)"/><g filter="url(#sblur)" fill="#d6ffa0"><ellipse rx="10" ry="2.8" opacity="0.8" transform="translate(10,-12) rotate(40)"/><ellipse rx="10" ry="2.8" opacity="0.75" transform="translate(-11.5,11.5) rotate(38)"/></g></g>
<g transform="translate(1784.7,1096.9)"><circle r="24" fill="url(#gG)"/><g filter="url(#sblur)" fill="#d6ffa0"><ellipse rx="10" ry="2.8" opacity="0.8" transform="translate(10,-12) rotate(40)"/><ellipse rx="10" ry="2.8" opacity="0.75" transform="translate(-11.5,11.5) rotate(38)"/></g></g>
<g transform="translate(1981.7,1096.9)"><circle r="24" fill="url(#gG)"/><g filter="url(#sblur)" fill="#d6ffa0"><ellipse rx="10" ry="2.8" opacity="0.8" transform="translate(10,-12) rotate(40)"/><ellipse rx="10" ry="2.8" opacity="0.75" transform="translate(-11.5,11.5) rotate(38)"/></g></g>
<g transform="translate(1390.7,1195.4)"><circle r="24" fill="url(#gB)"/><g filter="url(#sblur)" fill="#9cc4ff"><ellipse rx="10" ry="2.8" opacity="0.8" transform="translate(10,-12) rotate(40)"/><ellipse rx="10" ry="2.8" opacity="0.75" transform="translate(-11.5,11.5) rotate(38)"/></g></g>
<g transform="translate(1489.2,1195.4)"><circle r="24" fill="url(#gO)"/><g filter="url(#sblur)" fill="#ffc078"><ellipse rx="10" ry="2.8" opacity="0.8" transform="translate(10,-12) rotate(40)"/><ellipse rx="10" ry="2.8" opacity="0.75" transform="translate(-11.5,11.5) rotate(38)"/></g></g>
<g transform="translate(1587.7,1195.4)"><circle r="24" fill="url(#gB)"/><g filter="url(#sblur)" fill="#9cc4ff"><ellipse rx="10" ry="2.8" opacity="0.8" transform="translate(10,-12) rotate(40)"/><ellipse rx="10" ry="2.8" opacity="0.75" transform="translate(-11.5,11.5) rotate(38)"/></g></g>
<g transform="translate(1686.2,1195.4)"><circle r="24" fill="url(#gO)"/><g filter="url(#sblur)" fill="#ffc078"><ellipse rx="10" ry="2.8" opacity="0.8" transform="translate(10,-12) rotate(40)"/><ellipse rx="10" ry="2.8" opacity="0.75" transform="translate(-11.5,11.5) rotate(38)"/></g></g>
<g transform="translate(1784.7,1195.4)"><circle r="24" fill="url(#gB)"/><g filter="url(#sblur)" fill="#9cc4ff"><ellipse rx="10" ry="2.8" opacity="0.8" transform="translate(10,-12) rotate(40)"/><ellipse rx="10" ry="2.8" opacity="0.75" transform="translate(-11.5,11.5) rotate(38)"/></g></g>
<g transform="translate(1883.2,1195.4)"><circle r="24" fill="url(#gO)"/><g filter="url(#sblur)" fill="#ffc078"><ellipse rx="10" ry="2.8" opacity="0.8" transform="translate(10,-12) rotate(40)"/><ellipse rx="10" ry="2.8" opacity="0.75" transform="translate(-11.5,11.5) rotate(38)"/></g></g>
<g transform="translate(1981.7,1195.4)"><circle r="24" fill="url(#gB)"/><g filter="url(#sblur)" fill="#9cc4ff"><ellipse rx="10" ry="2.8" opacity="0.8" transform="translate(10,-12) rotate(40)"/><ellipse rx="10" ry="2.8" opacity="0.75" transform="translate(-11.5,11.5) rotate(38)"/></g></g>
<rect x="531.2" y="526.2" width="4.7" height="47.8" fill="#000"/>
<rect x="727.2" y="526.2" width="4.7" height="47.8" fill="#000"/>
<rect x="544" y="547.1" width="36" height="4.8" fill="#000"/>
<rect x="595" y="547.1" width="19.7" height="4.8" fill="#000"/>
<rect x="630.1" y="547.1" width="19.7" height="4.8" fill="#000"/>
<rect x="665.2" y="547.1" width="19.8" height="4.8" fill="#000"/>
<rect x="700.2" y="547.1" width="20.3" height="4.8" fill="#000"/>
<polyline points="557.5,542.6 543.5,549.5 557.5,556.4" fill="none" stroke="#000" stroke-width="4.9" stroke-linecap="round" stroke-linejoin="miter"/>
<polyline points="707.5,542.6 720.7,549.5 707.5,556.4" fill="none" stroke="#000" stroke-width="4.9" stroke-linecap="round" stroke-linejoin="miter"/>
<rect x="825" y="518.7" width="9.6" height="8.6" rx="3" fill="#000"/>
<rect x="825" y="533.7" width="9.6" height="8.6" rx="3" fill="#000"/>
<rect x="825" y="548.7" width="9.6" height="8.6" rx="3" fill="#000"/>
<rect x="824.8" y="1238.1" width="9.6" height="8.6" rx="3" fill="#000"/>
<rect x="824.8" y="1253.3" width="9.6" height="8.6" rx="3" fill="#000"/>
<rect x="824.8" y="1268.5" width="9.6" height="8.6" rx="3" fill="#000"/>
<rect x="1682.7" y="518.4" width="9.6" height="8.6" rx="3" fill="#000"/>
<rect x="1682.7" y="533.6" width="9.6" height="8.6" rx="3" fill="#000"/>
<rect x="1682.7" y="549" width="9.6" height="8.6" rx="3" fill="#000"/>
<rect x="1682" y="1238.3" width="9.6" height="8.6" rx="3" fill="#000"/>
<rect x="1682" y="1253.2" width="9.6" height="8.6" rx="3" fill="#000"/>
<rect x="1682" y="1268.2" width="9.6" height="8.6" rx="3" fill="#000"/>
<rect x="446.45" y="893.85" width="9.3" height="10.1" rx="3.5" fill="#000"/>
<rect x="461.65" y="893.85" width="9.3" height="10.1" rx="3.5" fill="#000"/>
<rect x="476.85" y="893.85" width="9.3" height="10.1" rx="3.5" fill="#000"/>
<rect x="1161.65" y="893.85" width="9.3" height="10.1" rx="3.5" fill="#000"/>
<rect x="1176.75" y="893.85" width="9.3" height="10.1" rx="3.5" fill="#000"/>
<rect x="1191.85" y="893.85" width="9.3" height="10.1" rx="3.5" fill="#000"/>
<rect x="1303.95" y="893.85" width="9.3" height="10.1" rx="3.5" fill="#000"/>
<rect x="1318.85" y="893.85" width="9.3" height="10.1" rx="3.5" fill="#000"/>
<rect x="1333.95" y="893.85" width="9.3" height="10.1" rx="3.5" fill="#000"/>
<rect x="2026.05" y="893.85" width="9.3" height="10.1" rx="3.5" fill="#000"/>
<rect x="2041.15" y="893.85" width="9.3" height="10.1" rx="3.5" fill="#000"/>
<rect x="2056.45" y="893.85" width="9.3" height="10.1" rx="3.5" fill="#000"/>
<rect x="629.05" y="640" width="4.9" height="18.6" fill="#000"/>
<rect x="629.05" y="674" width="4.9" height="20" fill="#000"/>
<rect x="629.05" y="708.7" width="4.9" height="20" fill="#000"/>
<rect x="629.05" y="744.1" width="4.9" height="21.9" fill="#000"/>
<polyline points="624.6,654 631.5,638.6 638.4,654" fill="none" stroke="#000" stroke-width="4.9" stroke-linecap="round"/>
<polyline points="624.6,752.6 631.5,767.6 638.4,752.6" fill="none" stroke="#000" stroke-width="4.9" stroke-linecap="round"/>
<rect x="475.2" y="602" width="29.8" height="4.7" fill="#000"/>
<rect x="475.2" y="701.9" width="29.8" height="4.9" fill="#000"/>
<rect x="488.8" y="614" width="5.1" height="20.7" fill="#000"/>
<rect x="488.8" y="650" width="5.1" height="19.6" fill="#000"/>
<polyline points="484.8,629.4 491.3,615.2 497.8,629.4" fill="none" stroke="#000" stroke-width="4.9" stroke-linecap="round"/>
<polyline points="484.8,679 491.3,693.1 497.8,679" fill="none" stroke="#000" stroke-width="4.9" stroke-linecap="round"/>
<rect x="1171.3" y="1088" width="4.4" height="109.8" fill="#000"/>
<polygon points="1173.5,1066.7 1186,1090.8 1161.2,1090.8" fill="#000"/>
<rect x="1171.3" y="1193.2" width="35.7" height="4.6" fill="#000"/>
<polygon points="1230.7,1195.5 1205.9,1182.8 1205.9,1207.9" fill="#000"/>
<rect x="2029.2" y="1088" width="4.4" height="109.8" fill="#000"/>
<polygon points="2031.4,1066.7 2043.9,1090.8 2019.1,1090.8" fill="#000"/>
<rect x="2029.2" y="1193.2" width="35.7" height="4.6" fill="#000"/>
<polygon points="2088.6,1195.5 2063.8,1182.8 2063.8,1207.9" fill="#000"/>
<path d="M 1221.6 1059.4 C 1214 1055.2 1208.6 1058 1206.6 1065.5 C 1204.4 1075 1202 1092 1199 1104 C 1197 1111.5 1193.5 1115.2 1187.3 1114.9" fill="none" stroke="#000" stroke-width="5.2"/><rect x="1196.3" y="1071" width="19.6" height="2.8" fill="#000"/>
<path d="M 2079.5 1059.4 C 2071.9 1055.2 2066.5 1058 2064.5 1065.5 C 2062.3 1075 2059.9 1092 2056.9 1104 C 2054.9 1111.5 2051.4 1115.2 2045.2 1114.9" fill="none" stroke="#000" stroke-width="5.2"/><rect x="2054.2" y="1071" width="19.6" height="2.8" fill="#000"/>
<rect x="1433" y="528.5" width="39" height="3.7" fill="#000"/>
<rect x="1630.1" y="528.6" width="25.7" height="3.5" fill="#000"/>
<rect x="1827" y="529" width="38.7" height="3.2" fill="#000"/>
<rect x="2023.9" y="529" width="25.9" height="3.3" fill="#000"/>
<rect x="1322.1" y="652.2" width="38.6" height="4.1" fill="#000"/>
<rect x="1322.1" y="746.5" width="38.6" height="4.1" fill="#000"/>
<rect x="1393" y="524.5" width="25" height="3.4" fill="#000"/>
<rect x="1393" y="532.4" width="25" height="3.4" fill="#000"/>
<rect x="1590.2" y="524.4" width="25.5" height="3.4" fill="#000"/>
<rect x="1590.2" y="533.1" width="25.5" height="3.4" fill="#000"/>
<rect x="1787.6" y="524.9" width="24.9" height="3.4" fill="#000"/>
<rect x="1787.6" y="532.2" width="24.9" height="3.4" fill="#000"/>
<rect x="1984.4" y="524.9" width="25" height="3.4" fill="#000"/>
<rect x="1984.4" y="532.2" width="25" height="3.4" fill="#000"/>
<line x1="1337.5" y1="556.5" x2="1356.52" y2="576.662" stroke="#4472c4" stroke-width="4.7"/><polygon points="1367.5,588.3 1349.51,581.904 1362.16,569.964" fill="#4472c4"/>
<line x1="1534" y1="557" x2="1553" y2="576.376" stroke="#4472c4" stroke-width="4.7"/><polygon points="1564.2,587.8 1546.09,581.753 1558.51,569.571" fill="#4472c4"/>
<line x1="1730.5" y1="557.2" x2="1749.19" y2="576.894" stroke="#4472c4" stroke-width="4.7"/><polygon points="1760.2,588.5 1742.19,582.157 1754.81,570.18" fill="#4472c4"/>
<line x1="1930.5" y1="557.2" x2="1949.03" y2="576.856" stroke="#4472c4" stroke-width="4.7"/><polygon points="1960,588.5 1942.01,582.096 1954.67,570.162" fill="#4472c4"/>
<path d="M 1447.23 741.434 A 64.6 49 0 1 1 1495.34 751.965" fill="none" stroke="#d42020" stroke-width="1.8"/><polygon points="1479.2,753.1 1497.9,738.5 1492.4,767.6" fill="#ee0000"/>
<path d="M 1644.23 741.434 A 64.6 49 0 1 1 1692.34 751.965" fill="none" stroke="#d42020" stroke-width="1.8"/><polygon points="1676.2,753.1 1694.9,738.5 1689.4,767.6" fill="#ee0000"/>
<path d="M 1841.23 741.434 A 64.6 49 0 1 1 1889.34 751.965" fill="none" stroke="#d42020" stroke-width="1.8"/><polygon points="1873.2,753.1 1891.9,738.5 1886.4,767.6" fill="#ee0000"/>
<path d="M 1447.23 938.434 A 64.6 49 0 1 1 1495.34 948.965" fill="none" stroke="#d42020" stroke-width="1.8"/><polygon points="1479.2,950.1 1497.9,935.5 1492.4,964.6" fill="#ee0000"/>
<path d="M 1644.23 938.434 A 64.6 49 0 1 1 1692.34 948.965" fill="none" stroke="#d42020" stroke-width="1.8"/><polygon points="1676.2,950.1 1694.9,935.5 1689.4,964.6" fill="#ee0000"/>
<path d="M 1841.23 938.434 A 64.6 49 0 1 1 1889.34 948.965" fill="none" stroke="#d42020" stroke-width="1.8"/><polygon points="1873.2,950.1 1891.9,935.5 1886.4,964.6" fill="#ee0000"/>
<path d="M 1447.23 1135.43 A 64.6 49 0 1 1 1495.34 1145.97" fill="none" stroke="#d42020" stroke-width="1.8"/><polygon points="1479.2,1147.1 1497.9,1132.5 1492.4,1161.6" fill="#ee0000"/>
<path d="M 1644.23 1135.43 A 64.6 49 0 1 1 1692.34 1145.97" fill="none" stroke="#d42020" stroke-width="1.8"/><polygon points="1676.2,1147.1 1694.9,1132.5 1689.4,1161.6" fill="#ee0000"/>
<path d="M 1841.23 1135.43 A 64.6 49 0 1 1 1889.34 1145.97" fill="none" stroke="#d42020" stroke-width="1.8"/><polygon points="1873.2,1147.1 1891.9,1132.5 1886.4,1161.6" fill="#ee0000"/>
<rect x="205.2" y="602.3" width="40.5" height="5.1" fill="#000"/>
<rect x="223.1" y="583.9" width="4.9" height="42.3" fill="#000"/>
<rect x="205.2" y="701.1" width="40.5" height="5.1" fill="#000"/>
<rect x="223.1" y="682.7" width="4.9" height="42.3" fill="#000"/>
<polygon points="317,676.1 322.2,676.1 299.7,737.2 294.5,737.2" fill="#000"/>
<rect x="205.2" y="897.1" width="40.5" height="4.4" fill="#000"/>
<polygon points="317,873 322.2,873 299.7,934.1 294.5,934.1" fill="#000"/>
<rect x="205.2" y="995.7" width="40.5" height="4.4" fill="#000"/>
<rect x="205.2" y="1094.3" width="40.5" height="4.4" fill="#000"/>
<polygon points="348.8,1070.3 354,1070.3 336.8,1131.5 331.6,1131.5" fill="#000"/>
<rect x="205.2" y="1192.7" width="40.5" height="4.4" fill="#000"/>
<polygon points="439,618 443.6,618 420.2,679 415.6,679" fill="#000"/>
<g transform="matrix(0.66759 0 0 0.67889 381.230 84.743)"><text x="0" y="0" font-family="Liberation Serif" font-size="100" fill="#000" xml:space="preserve">(<tspan font-style="italic">a</tspan>)</text></g>
<g transform="matrix(0.69412 0 0 0.67917 977.018 96.821)"><text x="0" y="0" font-family="Liberation Serif" font-size="100" font-style="italic" fill="#000" xml:space="preserve">α</text></g>
<g transform="matrix(0.70769 0 0 0.66154 1194.415 110.508)"><text x="0" y="0" font-family="Liberation Serif" font-size="100" font-style="italic" fill="#000" xml:space="preserve">β</text></g>
<g transform="matrix(0.84375 0 0 0.69362 1050.825 404.700)"><text x="0" y="0" font-family="Liberation Serif" font-size="100" font-style="italic" fill="#000" xml:space="preserve">m</text></g>
<g transform="matrix(0.59537 0 0 0.69701 1416.514 407.506)"><text x="0" y="0" font-family="Liberation Serif" font-size="100" fill="#000" xml:space="preserve">EOM</text></g>
<g transform="matrix(0.74889 0 0 0.70652 1799.849 402.400)"><text x="0" y="0" font-family="Liberation Serif" font-size="100" font-style="italic" fill="#000" xml:space="preserve">x</text></g>
<g transform="matrix(0.67222 0 0 0.67444 40.311 525.437)"><text x="0" y="0" font-family="Liberation Serif" font-size="100" fill="#000" xml:space="preserve">(<tspan font-style="italic">b</tspan>)</text></g>
<g transform="matrix(0.67460 0 0 0.68333 190.276 537.517)"><text x="0" y="0" font-family="Liberation Serif" font-size="100" font-style="italic" fill="#000" xml:space="preserve">ω</text></g>
<g transform="matrix(0.73750 0 0 0.54783 232.312 551.200)"><text x="0" y="0" font-family="Liberation Serif" font-size="100" font-style="italic" stroke="#fff" stroke-width="1.304" stroke-linejoin="round" fill="#000" xml:space="preserve">n</text></g>
<g transform="matrix(0.90250 0 0 0.70652 116.388 624.600)"><text x="0" y="0" font-family="Liberation Serif" font-size="100" font-style="italic" stroke="#fff" stroke-width="1.297" stroke-linejoin="round" fill="#000" xml:space="preserve">n</text></g>
<g transform="matrix(0.64375 0 0 0.69846 156.781 624.400)"><text x="0" y="0" font-family="Liberation Serif" font-size="100" fill="#000" xml:space="preserve">Ω</text></g>
<g transform="matrix(0.64219 0 0 0.69846 245.689 624.400)"><text x="0" y="0" font-family="Liberation Serif" font-size="100" fill="#000" xml:space="preserve">Ω</text></g>
<g transform="matrix(0.90250 0 0 0.70652 116.388 723.400)"><text x="0" y="0" font-family="Liberation Serif" font-size="100" font-style="italic" stroke="#fff" stroke-width="1.297" stroke-linejoin="round" fill="#000" xml:space="preserve">n</text></g>
<g transform="matrix(0.64375 0 0 0.69846 156.781 723.200)"><text x="0" y="0" font-family="Liberation Serif" font-size="100" fill="#000" xml:space="preserve">Ω</text></g>
<g transform="matrix(0.64219 0 0 0.69846 245.689 723.200)"><text x="0" y="0" font-family="Liberation Serif" font-size="100" fill="#000" xml:space="preserve">Ω</text></g>
<g transform="matrix(0.71000 0 0 0.69308 325.760 723.100)"><text x="0" y="0" font-family="Liberation Serif" font-size="100" fill="#000" xml:space="preserve">2</text></g>
<g transform="matrix(0.90250 0 0 0.70652 116.388 821.800)"><text x="0" y="0" font-family="Liberation Serif" font-size="100" font-style="italic" stroke="#fff" stroke-width="1.297" stroke-linejoin="round" fill="#000" xml:space="preserve">n</text></g>
<g transform="matrix(0.64375 0 0 0.69846 156.781 821.600)"><text x="0" y="0" font-family="Liberation Serif" font-size="100" fill="#000" xml:space="preserve">Ω</text></g>
<g transform="matrix(0.90250 0 0 0.70652 116.388 920.300)"><text x="0" y="0" font-family="Liberation Serif" font-size="100" font-style="italic" stroke="#fff" stroke-width="1.297" stroke-linejoin="round" fill="#000" xml:space="preserve">n</text></g>
<g transform="matrix(0.64375 0 0 0.69846 156.781 920.100)"><text x="0" y="0" font-family="Liberation Serif" font-size="100" fill="#000" xml:space="preserve">Ω</text></g>
<g transform="matrix(0.64219 0 0 0.69846 245.689 920.100)"><text x="0" y="0" font-family="Liberation Serif" font-size="100" fill="#000" xml:space="preserve">Ω</text></g>
<g transform="matrix(0.71000 0 0 0.69308 325.760 920.000)"><text x="0" y="0" font-family="Liberation Serif" font-size="100" fill="#000" xml:space="preserve">2</text></g>
<g transform="matrix(0.90250 0 0 0.70652 116.388 1018.900)"><text x="0" y="0" font-family="Liberation Serif" font-size="100" font-style="italic" stroke="#fff" stroke-width="1.297" stroke-linejoin="round" fill="#000" xml:space="preserve">n</text></g>
<g transform="matrix(0.64375 0 0 0.69846 156.781 1018.700)"><text x="0" y="0" font-family="Liberation Serif" font-size="100" fill="#000" xml:space="preserve">Ω</text></g>
<g transform="matrix(0.64219 0 0 0.69846 245.689 1018.700)"><text x="0" y="0" font-family="Liberation Serif" font-size="100" fill="#000" xml:space="preserve">Ω</text></g>
<g transform="matrix(0.90250 0 0 0.70652 116.388 1117.500)"><text x="0" y="0" font-family="Liberation Serif" font-size="100" font-style="italic" stroke="#fff" stroke-width="1.297" stroke-linejoin="round" fill="#000" xml:space="preserve">n</text></g>
<g transform="matrix(0.64375 0 0 0.69846 156.781 1117.300)"><text x="0" y="0" font-family="Liberation Serif" font-size="100" fill="#000" xml:space="preserve">Ω</text></g>
<g transform="matrix(0.69756 0 0 0.66515 247.412 1116.535)"><text x="0" y="0" font-family="Liberation Serif" font-size="100" fill="#000" xml:space="preserve">3</text></g>
<g transform="matrix(0.62344 0 0 0.69846 283.483 1117.300)"><text x="0" y="0" font-family="Liberation Serif" font-size="100" fill="#000" xml:space="preserve">Ω</text></g>
<g transform="matrix(0.69000 0 0 0.69308 363.540 1117.200)"><text x="0" y="0" font-family="Liberation Serif" font-size="100" fill="#000" xml:space="preserve">2</text></g>
<g transform="matrix(0.90250 0 0 0.70652 116.388 1215.900)"><text x="0" y="0" font-family="Liberation Serif" font-size="100" font-style="italic" stroke="#fff" stroke-width="1.297" stroke-linejoin="round" fill="#000" xml:space="preserve">n</text></g>
<g transform="matrix(0.64375 0 0 0.69846 156.781 1215.700)"><text x="0" y="0" font-family="Liberation Serif" font-size="100" fill="#000" xml:space="preserve">Ω</text></g>
<g transform="matrix(0.69000 0 0 0.68308 248.140 1215.900)"><text x="0" y="0" font-family="Liberation Serif" font-size="100" fill="#000" xml:space="preserve">2</text></g>
<g transform="matrix(0.62344 0 0 0.69846 283.483 1215.700)"><text x="0" y="0" font-family="Liberation Serif" font-size="100" fill="#000" xml:space="preserve">Ω</text></g>
<g transform="matrix(0.64531 0 0 0.69846 366.573 664.700)"><text x="0" y="0" font-family="Liberation Serif" font-size="100" fill="#000" xml:space="preserve">Ω</text></g>
<g transform="matrix(0.68750 0 0 0.67692 447.750 664.500)"><text x="0" y="0" font-family="Liberation Serif" font-size="100" fill="#000" xml:space="preserve">2</text></g>
<g transform="matrix(0.70638 0 0 0.67857 613.981 535.921)"><text x="0" y="0" font-family="Liberation Serif" font-size="100" font-style="italic" fill="#000" xml:space="preserve">d</text></g>
<g transform="matrix(0.63750 0 0 0.68769 576.413 719.700)"><text x="0" y="0" font-family="Liberation Serif" font-size="100" fill="#000" xml:space="preserve">Ω</text></g>
<g transform="matrix(0.65510 0 0 0.66333 673.724 666.870) skewX(-9)"><text x="0" y="0" font-family="Liberation Serif" font-size="100" font-style="italic" fill="#000" xml:space="preserve">ϕ</text></g>
<g transform="matrix(0.28906 0 0 0.26383 700.344 677.800)"><text x="0" y="0" font-family="Liberation Serif" font-size="100" font-style="italic" fill="#000" xml:space="preserve">m</text></g>
<g transform="matrix(0.65510 0 0 0.66333 673.724 765.370) skewX(-9)"><text x="0" y="0" font-family="Liberation Serif" font-size="100" font-style="italic" fill="#000" xml:space="preserve">ϕ</text></g>
<g transform="matrix(0.28906 0 0 0.26383 700.344 776.300)"><text x="0" y="0" font-family="Liberation Serif" font-size="100" font-style="italic" fill="#000" xml:space="preserve">m</text></g>
<g transform="matrix(0.65510 0 0 0.66333 673.724 863.870) skewX(-9)"><text x="0" y="0" font-family="Liberation Serif" font-size="100" font-style="italic" fill="#000" xml:space="preserve">ϕ</text></g>
<g transform="matrix(0.28906 0 0 0.26383 700.344 874.800)"><text x="0" y="0" font-family="Liberation Serif" font-size="100" font-style="italic" fill="#000" xml:space="preserve">m</text></g>
<g transform="matrix(0.65510 0 0 0.66333 673.724 962.370) skewX(-9)"><text x="0" y="0" font-family="Liberation Serif" font-size="100" font-style="italic" fill="#000" xml:space="preserve">ϕ</text></g>
<g transform="matrix(0.28906 0 0 0.26383 700.344 973.300)"><text x="0" y="0" font-family="Liberation Serif" font-size="100" font-style="italic" fill="#000" xml:space="preserve">m</text></g>
<g transform="matrix(0.65510 0 0 0.66333 673.724 1060.870) skewX(-9)"><text x="0" y="0" font-family="Liberation Serif" font-size="100" font-style="italic" fill="#000" xml:space="preserve">ϕ</text></g>
<g transform="matrix(0.28906 0 0 0.26383 700.344 1071.800)"><text x="0" y="0" font-family="Liberation Serif" font-size="100" font-style="italic" fill="#000" xml:space="preserve">m</text></g>
<g transform="matrix(0.65510 0 0 0.66333 673.724 1159.370) skewX(-9)"><text x="0" y="0" font-family="Liberation Serif" font-size="100" font-style="italic" fill="#000" xml:space="preserve">ϕ</text></g>
<g transform="matrix(0.28906 0 0 0.26383 700.344 1170.300)"><text x="0" y="0" font-family="Liberation Serif" font-size="100" font-style="italic" fill="#000" xml:space="preserve">m</text></g>
<g transform="matrix(0.45323 0 0 0.57727 734.881 671.423)"><text x="0" y="0" font-family="Liberation Serif" font-size="100" font-style="italic" fill="#0a7a0a" xml:space="preserve">C</text></g>
<g transform="matrix(0.25918 0 0 0.22581 761.463 673.213)"><text x="0" y="0" font-family="Liberation Serif" font-size="100" font-style="italic" letter-spacing="3.86" fill="#0a7a0a" xml:space="preserve">m,n</text></g>
<g transform="matrix(0.47258 0 0 0.57576 930.365 681.724)"><text x="0" y="0" font-family="Liberation Serif" font-size="100" font-style="italic" fill="#0a7a0a" xml:space="preserve">C</text></g>
<g transform="matrix(0.22286 0 0 0.19383 958.609 682.793)"><text x="0" y="0" font-family="Liberation Serif" font-size="100" letter-spacing="8.736" fill="#0a7a0a" xml:space="preserve"><tspan font-style="italic">m</tspan>+1,<tspan font-style="italic">n</tspan></text></g>
<g transform="matrix(0.46818 0 0 0.58154 739.141 775.382)"><text x="0" y="0" font-family="Liberation Serif" font-size="100" font-style="italic" fill="#0a0ad2" xml:space="preserve">A</text></g>
<g transform="matrix(0.26268 0 0 0.22742 767.849 776.189)"><text x="0" y="0" font-family="Liberation Serif" font-size="100" font-style="italic" letter-spacing="1.811" fill="#0a0ad2" xml:space="preserve">m,n</text></g>
<g transform="matrix(0.52586 0 0 0.58769 817.374 775.200)"><text x="0" y="0" font-family="Liberation Serif" font-size="100" font-style="italic" fill="#ee8020" xml:space="preserve">B</text></g>
<g transform="matrix(0.26268 0 0 0.22742 845.749 776.189)"><text x="0" y="0" font-family="Liberation Serif" font-size="100" font-style="italic" letter-spacing="1.811" fill="#ee8020" xml:space="preserve">m,n</text></g>
<g transform="matrix(0.46818 0 0 0.57846 934.041 775.278)"><text x="0" y="0" font-family="Liberation Serif" font-size="100" font-style="italic" fill="#0a0ad2" xml:space="preserve">A</text></g>
<g transform="matrix(0.21395 0 0 0.18642 961.744 775.504)"><text x="0" y="0" font-family="Liberation Serif" font-size="100" letter-spacing="12.1" fill="#0a0ad2" xml:space="preserve"><tspan font-style="italic">m</tspan>+1,<tspan font-style="italic">n</tspan></text></g>
<g transform="matrix(0.52586 0 0 0.57846 1027.974 774.700)"><text x="0" y="0" font-family="Liberation Serif" font-size="100" font-style="italic" fill="#ee8020" xml:space="preserve">B</text></g>
<g transform="matrix(0.21424 0 0 0.18642 1056.143 775.504)"><text x="0" y="0" font-family="Liberation Serif" font-size="100" letter-spacing="10.701" fill="#ee8020" xml:space="preserve"><tspan font-style="italic">m</tspan>+1,<tspan font-style="italic">n</tspan></text></g>
<g transform="matrix(0.47742 0 0 0.55455 734.135 875.845)"><text x="0" y="0" font-family="Liberation Serif" font-size="100" font-style="italic" fill="#0a7a0a" xml:space="preserve">C</text></g>
<g transform="matrix(0.22778 0 0 0.20123 761.089 877.281)"><text x="0" y="0" font-family="Liberation Serif" font-size="100" letter-spacing="6.508" fill="#0a7a0a" xml:space="preserve"><tspan font-style="italic">m</tspan>,<tspan font-style="italic">n</tspan>−1</text></g>
<g transform="matrix(0.47742 0 0 0.55455 931.235 875.845)"><text x="0" y="0" font-family="Liberation Serif" font-size="100" font-style="italic" fill="#0a7a0a" xml:space="preserve">C</text></g>
<g transform="matrix(0.23147 0 0 0.19878 958.574 877.120)"><text x="0" y="0" font-family="Liberation Serif" font-size="100" letter-spacing="4.179" fill="#0a7a0a" xml:space="preserve"><tspan font-style="italic">m</tspan>+1,<tspan font-style="italic">n</tspan>−1</text></g>
<g transform="matrix(0.74222 0 0 0.70870 1214.342 1241.300)"><text x="0" y="0" font-family="Liberation Serif" font-size="100" font-style="italic" fill="#000" xml:space="preserve">x</text></g>
<g transform="matrix(0.66505 0 0 0.67111 1250.540 524.507)"><text x="0" y="0" font-family="Liberation Serif" font-size="100" fill="#000" xml:space="preserve">(<tspan font-style="italic">c</tspan>)</text></g>
<g transform="matrix(0.61020 0 0 0.64000 1339.649 543.260) skewX(-9)"><text x="0" y="0" font-family="Liberation Serif" font-size="100" font-style="italic" fill="#000" xml:space="preserve">ϕ</text></g>
<g transform="matrix(0.31875 0 0 0.29574 1365.525 554.000)"><text x="0" y="0" font-family="Liberation Serif" font-size="100" font-style="italic" fill="#000" xml:space="preserve">m</text></g>
<g transform="matrix(0.62653 0 0 0.64000 1505.867 543.560) skewX(-9)"><text x="0" y="0" font-family="Liberation Serif" font-size="100" font-style="italic" fill="#000" xml:space="preserve">ϕ</text></g>
<g transform="matrix(0.32169 0 0 0.27879 1531.313 554.100)"><text x="0" y="0" font-family="Liberation Serif" font-size="100" letter-spacing="-1.22" fill="#000" xml:space="preserve"><tspan font-style="italic">m</tspan><tspan fill="#666">+</tspan>1</text></g>
<g transform="matrix(0.63061 0 0 0.64000 1698.647 543.260) skewX(-9)"><text x="0" y="0" font-family="Liberation Serif" font-size="100" font-style="italic" fill="#000" xml:space="preserve">ϕ</text></g>
<g transform="matrix(0.34491 0 0 0.30000 1724.520 554.000)"><text x="0" y="0" font-family="Liberation Serif" font-size="100" letter-spacing="-1.022" fill="#000" xml:space="preserve"><tspan font-style="italic">m</tspan><tspan fill="#666">+</tspan>2</text></g>
<g transform="matrix(0.63061 0 0 0.64000 1898.647 543.260) skewX(-9)"><text x="0" y="0" font-family="Liberation Serif" font-size="100" font-style="italic" fill="#000" xml:space="preserve">ϕ</text></g>
<g transform="matrix(0.32529 0 0 0.28182 1924.599 553.718)"><text x="0" y="0" font-family="Liberation Serif" font-size="100" letter-spacing="-0.184" fill="#000" xml:space="preserve"><tspan font-style="italic">m</tspan><tspan fill="#666">+</tspan>3</text></g>
<g transform="matrix(0.42209 0 0 0.43404 1433.112 510.866)"><text x="0" y="0" font-family="Liberation Serif" font-size="100" font-weight="bold" fill="#000" xml:space="preserve">-<tspan font-style="italic">π</tspan></text></g>
<g transform="matrix(0.45000 0 0 0.43231 1441.100 570.300)"><text x="0" y="0" font-family="Liberation Serif" font-size="100" fill="#000" xml:space="preserve">4</text></g>
<g transform="matrix(0.41429 0 0 0.42340 1631.286 510.777)"><text x="0" y="0" font-family="Liberation Serif" font-size="100" font-weight="bold" fill="#000" xml:space="preserve"><tspan font-style="italic">π</tspan></text></g>
<g transform="matrix(0.42391 0 0 0.43538 1632.152 570.200)"><text x="0" y="0" font-family="Liberation Serif" font-size="100" fill="#000" xml:space="preserve">4</text></g>
<g transform="matrix(0.41163 0 0 0.42553 1827.653 510.874)"><text x="0" y="0" font-family="Liberation Serif" font-size="100" font-weight="bold" fill="#000" xml:space="preserve">-<tspan font-style="italic">π</tspan></text></g>
<g transform="matrix(0.42391 0 0 0.43385 1836.652 570.800)"><text x="0" y="0" font-family="Liberation Serif" font-size="100" fill="#000" xml:space="preserve">4</text></g>
<g transform="matrix(0.41429 0 0 0.42553 2024.786 510.874)"><text x="0" y="0" font-family="Liberation Serif" font-size="100" font-weight="bold" fill="#000" xml:space="preserve"><tspan font-style="italic">π</tspan></text></g>
<g transform="matrix(0.42609 0 0 0.43385 2026.148 570.800)"><text x="0" y="0" font-family="Liberation Serif" font-size="100" fill="#000" xml:space="preserve">4</text></g>
<g transform="matrix(0.43735 0 0 0.43404 1322.288 634.366)"><text x="0" y="0" font-family="Liberation Serif" font-size="100" stroke="#000" stroke-width="1.141" stroke-linejoin="round" fill="#000" xml:space="preserve">-<tspan font-style="italic">π</tspan></text></g>
<g transform="matrix(0.41739 0 0 0.42615 1331.565 693.500)"><text x="0" y="0" font-family="Liberation Serif" font-size="100" fill="#000" xml:space="preserve">4</text></g>
<g transform="matrix(0.43735 0 0 0.45106 1322.288 728.949)"><text x="0" y="0" font-family="Liberation Serif" font-size="100" stroke="#000" stroke-width="1.119" stroke-linejoin="round" fill="#000" xml:space="preserve">-<tspan font-style="italic">π</tspan></text></g>
<g transform="matrix(0.41739 0 0 0.43077 1331.565 788.400)"><text x="0" y="0" font-family="Liberation Serif" font-size="100" fill="#000" xml:space="preserve">4</text></g>
<g transform="matrix(0.73469 0 0 0.71429 1469.065 717.471)"><text x="0" y="0" font-family="Liberation Serif" font-size="100" stroke="#000" stroke-width="1.74" stroke-linejoin="round" fill="#000" xml:space="preserve">π</text></g>
<g transform="matrix(0.73500 0 0 0.71429 1654.395 717.471)"><text x="0" y="0" font-family="Liberation Serif" font-size="100" stroke="#000" stroke-width="1.735" stroke-linejoin="round" fill="#000" xml:space="preserve">-π</text></g>
<g transform="matrix(0.73469 0 0 0.71429 1863.065 717.471)"><text x="0" y="0" font-family="Liberation Serif" font-size="100" stroke="#000" stroke-width="1.74" stroke-linejoin="round" fill="#000" xml:space="preserve">π</text></g>
<g transform="matrix(0.73469 0 0 0.71429 1469.065 914.471)"><text x="0" y="0" font-family="Liberation Serif" font-size="100" stroke="#000" stroke-width="1.74" stroke-linejoin="round" fill="#000" xml:space="preserve">π</text></g>
<g transform="matrix(0.73500 0 0 0.71429 1654.395 914.471)"><text x="0" y="0" font-family="Liberation Serif" font-size="100" stroke="#000" stroke-width="1.735" stroke-linejoin="round" fill="#000" xml:space="preserve">-π</text></g>
<g transform="matrix(0.73469 0 0 0.71429 1863.065 914.471)"><text x="0" y="0" font-family="Liberation Serif" font-size="100" stroke="#000" stroke-width="1.74" stroke-linejoin="round" fill="#000" xml:space="preserve">π</text></g>
<g transform="matrix(0.73469 0 0 0.71429 1469.065 1111.471)"><text x="0" y="0" font-family="Liberation Serif" font-size="100" stroke="#000" stroke-width="1.74" stroke-linejoin="round" fill="#000" xml:space="preserve">π</text></g>
<g transform="matrix(0.73500 0 0 0.71429 1654.395 1111.471)"><text x="0" y="0" font-family="Liberation Serif" font-size="100" stroke="#000" stroke-width="1.735" stroke-linejoin="round" fill="#000" xml:space="preserve">-π</text></g>
<g transform="matrix(0.73469 0 0 0.71429 1863.065 1111.471)"><text x="0" y="0" font-family="Liberation Serif" font-size="100" stroke="#000" stroke-width="1.74" stroke-linejoin="round" fill="#000" xml:space="preserve">π</text></g>
<g transform="matrix(0.74222 0 0 0.70870 2072.242 1241.300)"><text x="0" y="0" font-family="Liberation Serif" font-size="100" font-style="italic" fill="#000" xml:space="preserve">x</text></g>
</svg>
</body></html>
